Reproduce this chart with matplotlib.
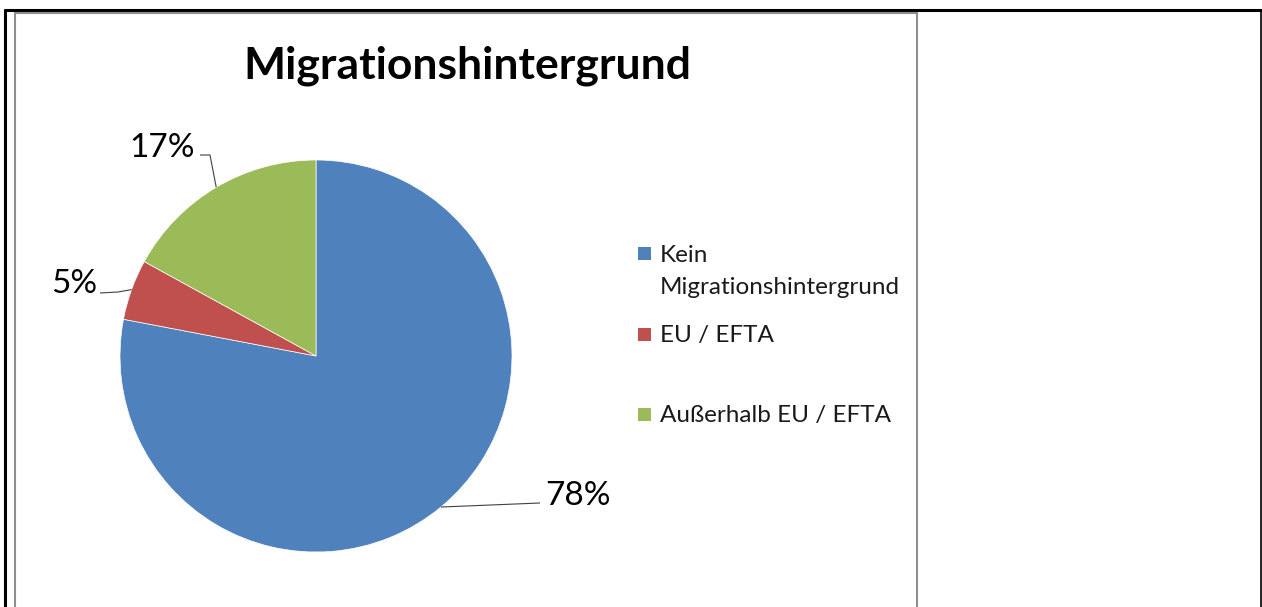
import numpy as np
import matplotlib
matplotlib.use("Agg")
import matplotlib.pyplot as plt
from matplotlib.lines import Line2D
from matplotlib.patches import Rectangle

# Schrift: Lato kommt Calibri am nächsten
plt.rcParams['font.family'] = ['Lato', 'DejaVu Sans']

title = "Migrationshintergrund"
categories = ["Kein\nMigrationshintergrund", "EU / EFTA", "Außerhalb EU / EFTA"]
values = [78, 5, 17]
colors = ['#4F81BD', '#C0504D', '#9BBB59']

W, H = 1262, 607
fig = plt.figure(figsize=(W / 100, H / 100), dpi=100)


def px(x, y):
    # Pixel (oben links) -> Figure-Koordinaten
    return x / W, 1 - y / H


def line(xs, ys, color, lw):
    fx = [x / W for x in xs]
    fy = [1 - y / H for y in ys]
    fig.add_artist(Line2D(fx, fy, transform=fig.transFigure, color=color,
                          linewidth=lw, solid_capstyle='butt'))


# Rahmen
line([5, 5], [9, 607], 'black', 2.2)
line([4, 1262], [10, 10], 'black', 2.2)
line([1260.5, 1260.5], [9, 607], 'black', 1.2)
line([15, 15], [12, 607], '#8f8f8f', 1.5)
line([14, 917], [12.5, 12.5], '#8f8f8f', 1.5)
line([916.5, 916.5], [12, 607], '#8f8f8f', 1.5)

# Kreisdiagramm
cx, cy, r = 316, 356, 196
x0, y0 = px(cx - r, cy + r)
ax = fig.add_axes([x0, y0, 2 * r / W, 2 * r / H])
ax.pie(values, colors=colors, startangle=90, counterclock=False,
       wedgeprops=dict(edgecolor='white', linewidth=0.5))
ax.set_xlim(-1, 1)
ax.set_ylim(-1, 1)
ax.set_aspect('equal')
ax.axis('off')

# Beschriftungen mit Führungslinien
total = sum(values)
cum = np.cumsum([0] + values[:-1])
label_layout = [
    dict(via=[(540, 503)], pos=(545, 505), ha='left'),
    dict(via=[(118, 292), (100, 293)], pos=(97, 293), ha='right'),
    dict(via=[(210, 155), (200, 155)], pos=(195, 157), ha='right'),
]
for v, c, lay in zip(values, cum, label_layout):
    ang = np.deg2rad(90 - 360 * (c + v / 2) / total)
    ex, ey = cx + r * np.cos(ang), cy - r * np.sin(ang)
    pts = [(ex, ey)] + lay['via']
    line([p[0] for p in pts], [p[1] for p in pts], '#404040', 0.8)
    tx, ty = px(*lay['pos'])
    fig.text(tx, ty, f"{v}%", ha=lay['ha'], va='baseline', fontsize=24,
             color='black')

# Titel
tx, ty = px(467, 78)
fig.text(tx, ty, title, ha='center', va='baseline', fontsize=32,
         fontweight='bold', color='black')

# Legende
legend_rows = [(247, [262, 294]), (328, [342]), (408, [422])]
for cat, col, (sq_top, baselines) in zip(categories, colors, legend_rows):
    sx, sy = px(638, sq_top + 13)
    fig.add_artist(Rectangle((sx, sy), 13 / W, 13 / H, transform=fig.transFigure,
                             facecolor=col, edgecolor='none'))
    for txt, b in zip(cat.split("\n"), baselines):
        lx, ly = px(660, b)
        fig.text(lx, ly, txt, ha='left', va='baseline', fontsize=17.5,
                 color='#1a1a1a')

fig.savefig("out.png", dpi=100, facecolor='white')
